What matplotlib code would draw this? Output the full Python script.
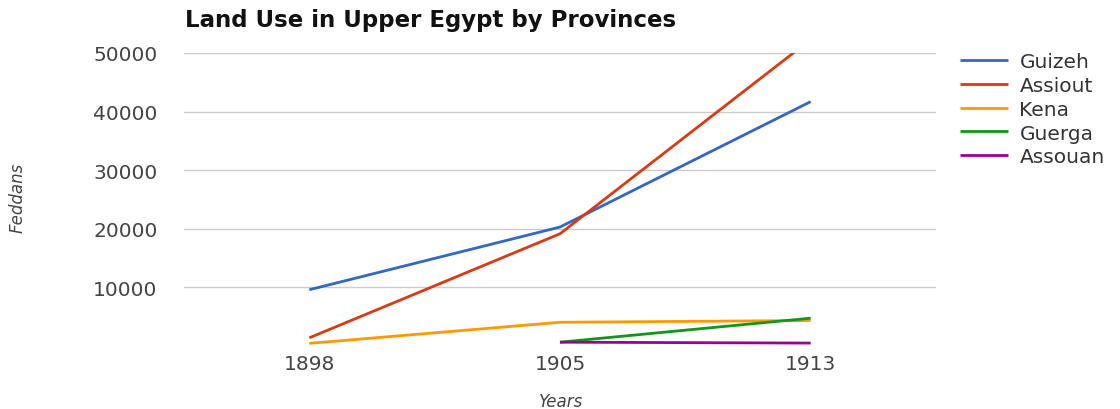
import matplotlib
matplotlib.use("Agg")
import matplotlib.pyplot as plt
from matplotlib.ticker import FixedLocator

# data
years = ["1898", "1905", "1913"]
guizeh = [9600, 20300, 41700]
assiout = [1400, 19150, 52300]
kena = [450, 4050, 4350]
guerga = [None, 650, 4750]
assouan = [None, 650, 500]

series = [
    ("Guizeh", guizeh, "#3366cc"),
    ("Assiout", assiout, "#dc3912"),
    ("Kena", kena, "#ff9900"),
    ("Guerga", guerga, "#109618"),
    ("Assouan", assouan, "#990099"),
]
yticks = [10000, 20000, 30000, 40000, 50000]

plt.rcParams["font.family"] = ["DejaVu Sans"]

W, H = 1120, 410
fig = plt.figure(figsize=(W / 100, H / 100), dpi=100)
ax = fig.add_axes([184 / W, 1 - 347 / H, (936 - 184) / W, (347 - 54) / H])

x = list(range(len(years)))
for name, vals, color in series:
    xs = [i for i, v in zip(x, vals) if v is not None]
    ys = [v for v in vals if v is not None]
    ax.plot(xs, ys, color=color, lw=2, label=name, solid_capstyle="butt")

ax.set_xlim(-0.5, len(years) - 0.5)
ax.set_ylim(0, 50000)
ax.set_xticks(x)
ax.set_xticklabels(years)
ax.yaxis.set_major_locator(FixedLocator(yticks))
ax.set_yticklabels([str(v) for v in yticks])
ax.grid(axis="y", color="#cccccc", lw=1)
ax.set_axisbelow(True)
for s in ax.spines.values():
    s.set_visible(False)
ax.tick_params(length=0, labelsize=14.5, labelcolor="#444444")
ax.tick_params(axis="y", pad=19)
ax.tick_params(axis="x", pad=6)

ax.set_ylabel("Feddans", style="italic", color="#444444", fontsize=12, va="center")
ax.yaxis.set_label_coords((18 - 184) / 752, (347 - 198) / 293)
ax.set_xlabel("Years", style="italic", color="#444444", fontsize=12, va="center")
ax.xaxis.set_label_coords((561 - 184) / 752, (347 - 402) / 293)

fig.text(185 / W, 1 - 20 / H, "Land Use in Upper Egypt by Provinces",
         fontsize=16.5, fontweight="bold", color="#111111", va="center", ha="left")

leg = fig.legend(loc="upper left", bbox_to_anchor=(960 / W, 1 - 53 / H),
                 frameon=False, fontsize=14.5, handlelength=2.4, handletextpad=0.55,
                 labelspacing=0.24, borderaxespad=0, borderpad=0)
for t in leg.get_texts():
    t.set_color("#333333")

fig.savefig("out.png", dpi=100)
